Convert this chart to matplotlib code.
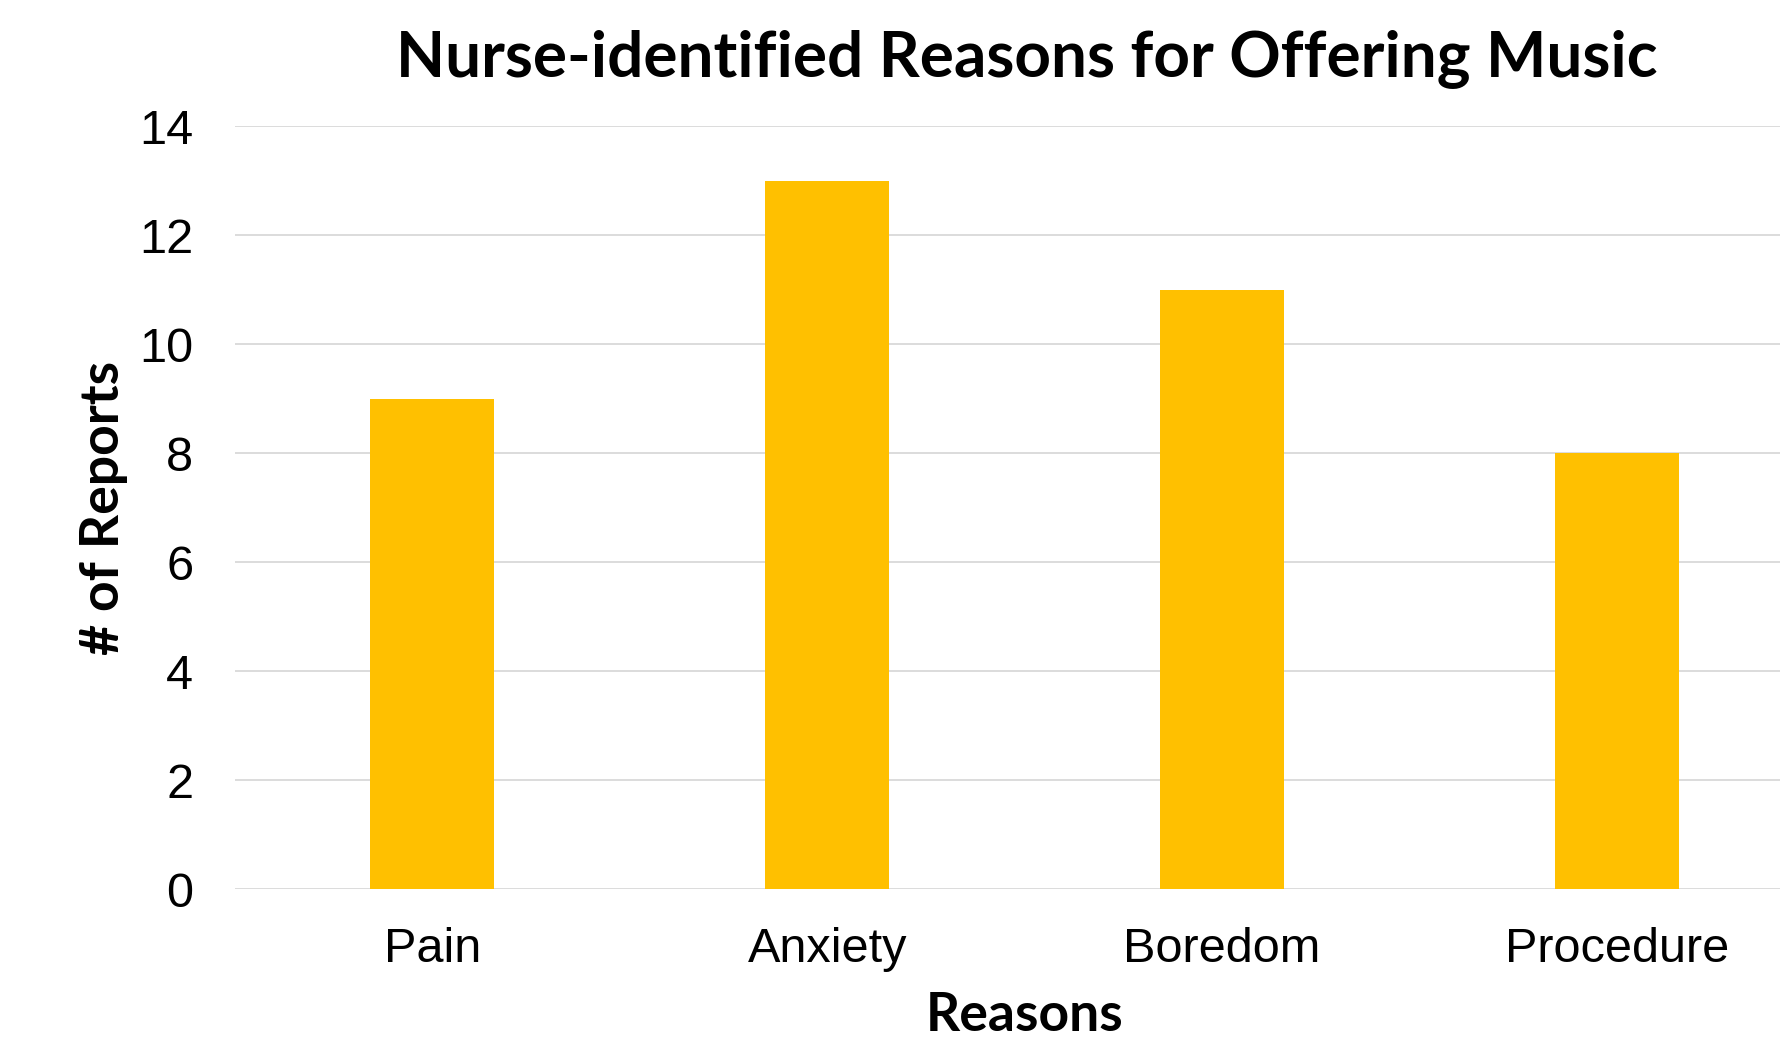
import matplotlib

matplotlib.use("Agg")
import matplotlib.pyplot as plt

reasons = ["Pain", "Anxiety", "Boredom", "Procedure"]
reports = [9, 13, 11, 8]
y_ticks = [0, 2, 4, 6, 8, 10, 12, 14]

BAR_COLOR = "#FFC000"
GRID_COLOR = "#D9D9D9"
HEADING_FONT = "Lato"
TICK_FONT = "Liberation Sans"

fig = plt.figure(figsize=(17.81, 10.53), dpi=100)
# plot area runs a little past the right edge of the figure
ax = fig.add_axes([0.1319, 0.1557, 0.8869, 0.7246])

positions = list(range(len(reasons)))
ax.bar(positions, reports, width=0.314, color=BAR_COLOR, zorder=3)

ax.set_xlim(-0.5, len(reasons) - 0.5)
ax.set_ylim(0, 14)
ax.set_yticks(y_ticks)
ax.set_xticks(positions)
ax.set_xticklabels(reasons)

for tick in ax.get_xticklabels() + ax.get_yticklabels():
    tick.set_fontfamily(TICK_FONT)
    tick.set_fontsize(35)
    tick.set_color("black")

ax.tick_params(axis="both", length=0)
ax.tick_params(axis="y", pad=30)
ax.tick_params(axis="x", pad=27)

ax.grid(axis="y", color=GRID_COLOR, linewidth=1.3, zorder=0)
ax.set_axisbelow(True)
for spine in ax.spines.values():
    spine.set_visible(False)

ax.set_xlabel("Reasons", fontfamily=HEADING_FONT, fontweight="bold", fontsize=38.5, labelpad=14)
ax.set_ylabel("# of Reports", fontfamily=HEADING_FONT, fontweight="bold", fontsize=38.5, labelpad=8)

fig.text(
    0.5766,
    0.928,
    "Nurse-identified Reasons for Offering Music",
    ha="center",
    va="baseline",
    fontfamily=HEADING_FONT,
    fontweight="bold",
    fontsize=46,
)

fig.savefig("out.png", dpi=100, facecolor="white")
